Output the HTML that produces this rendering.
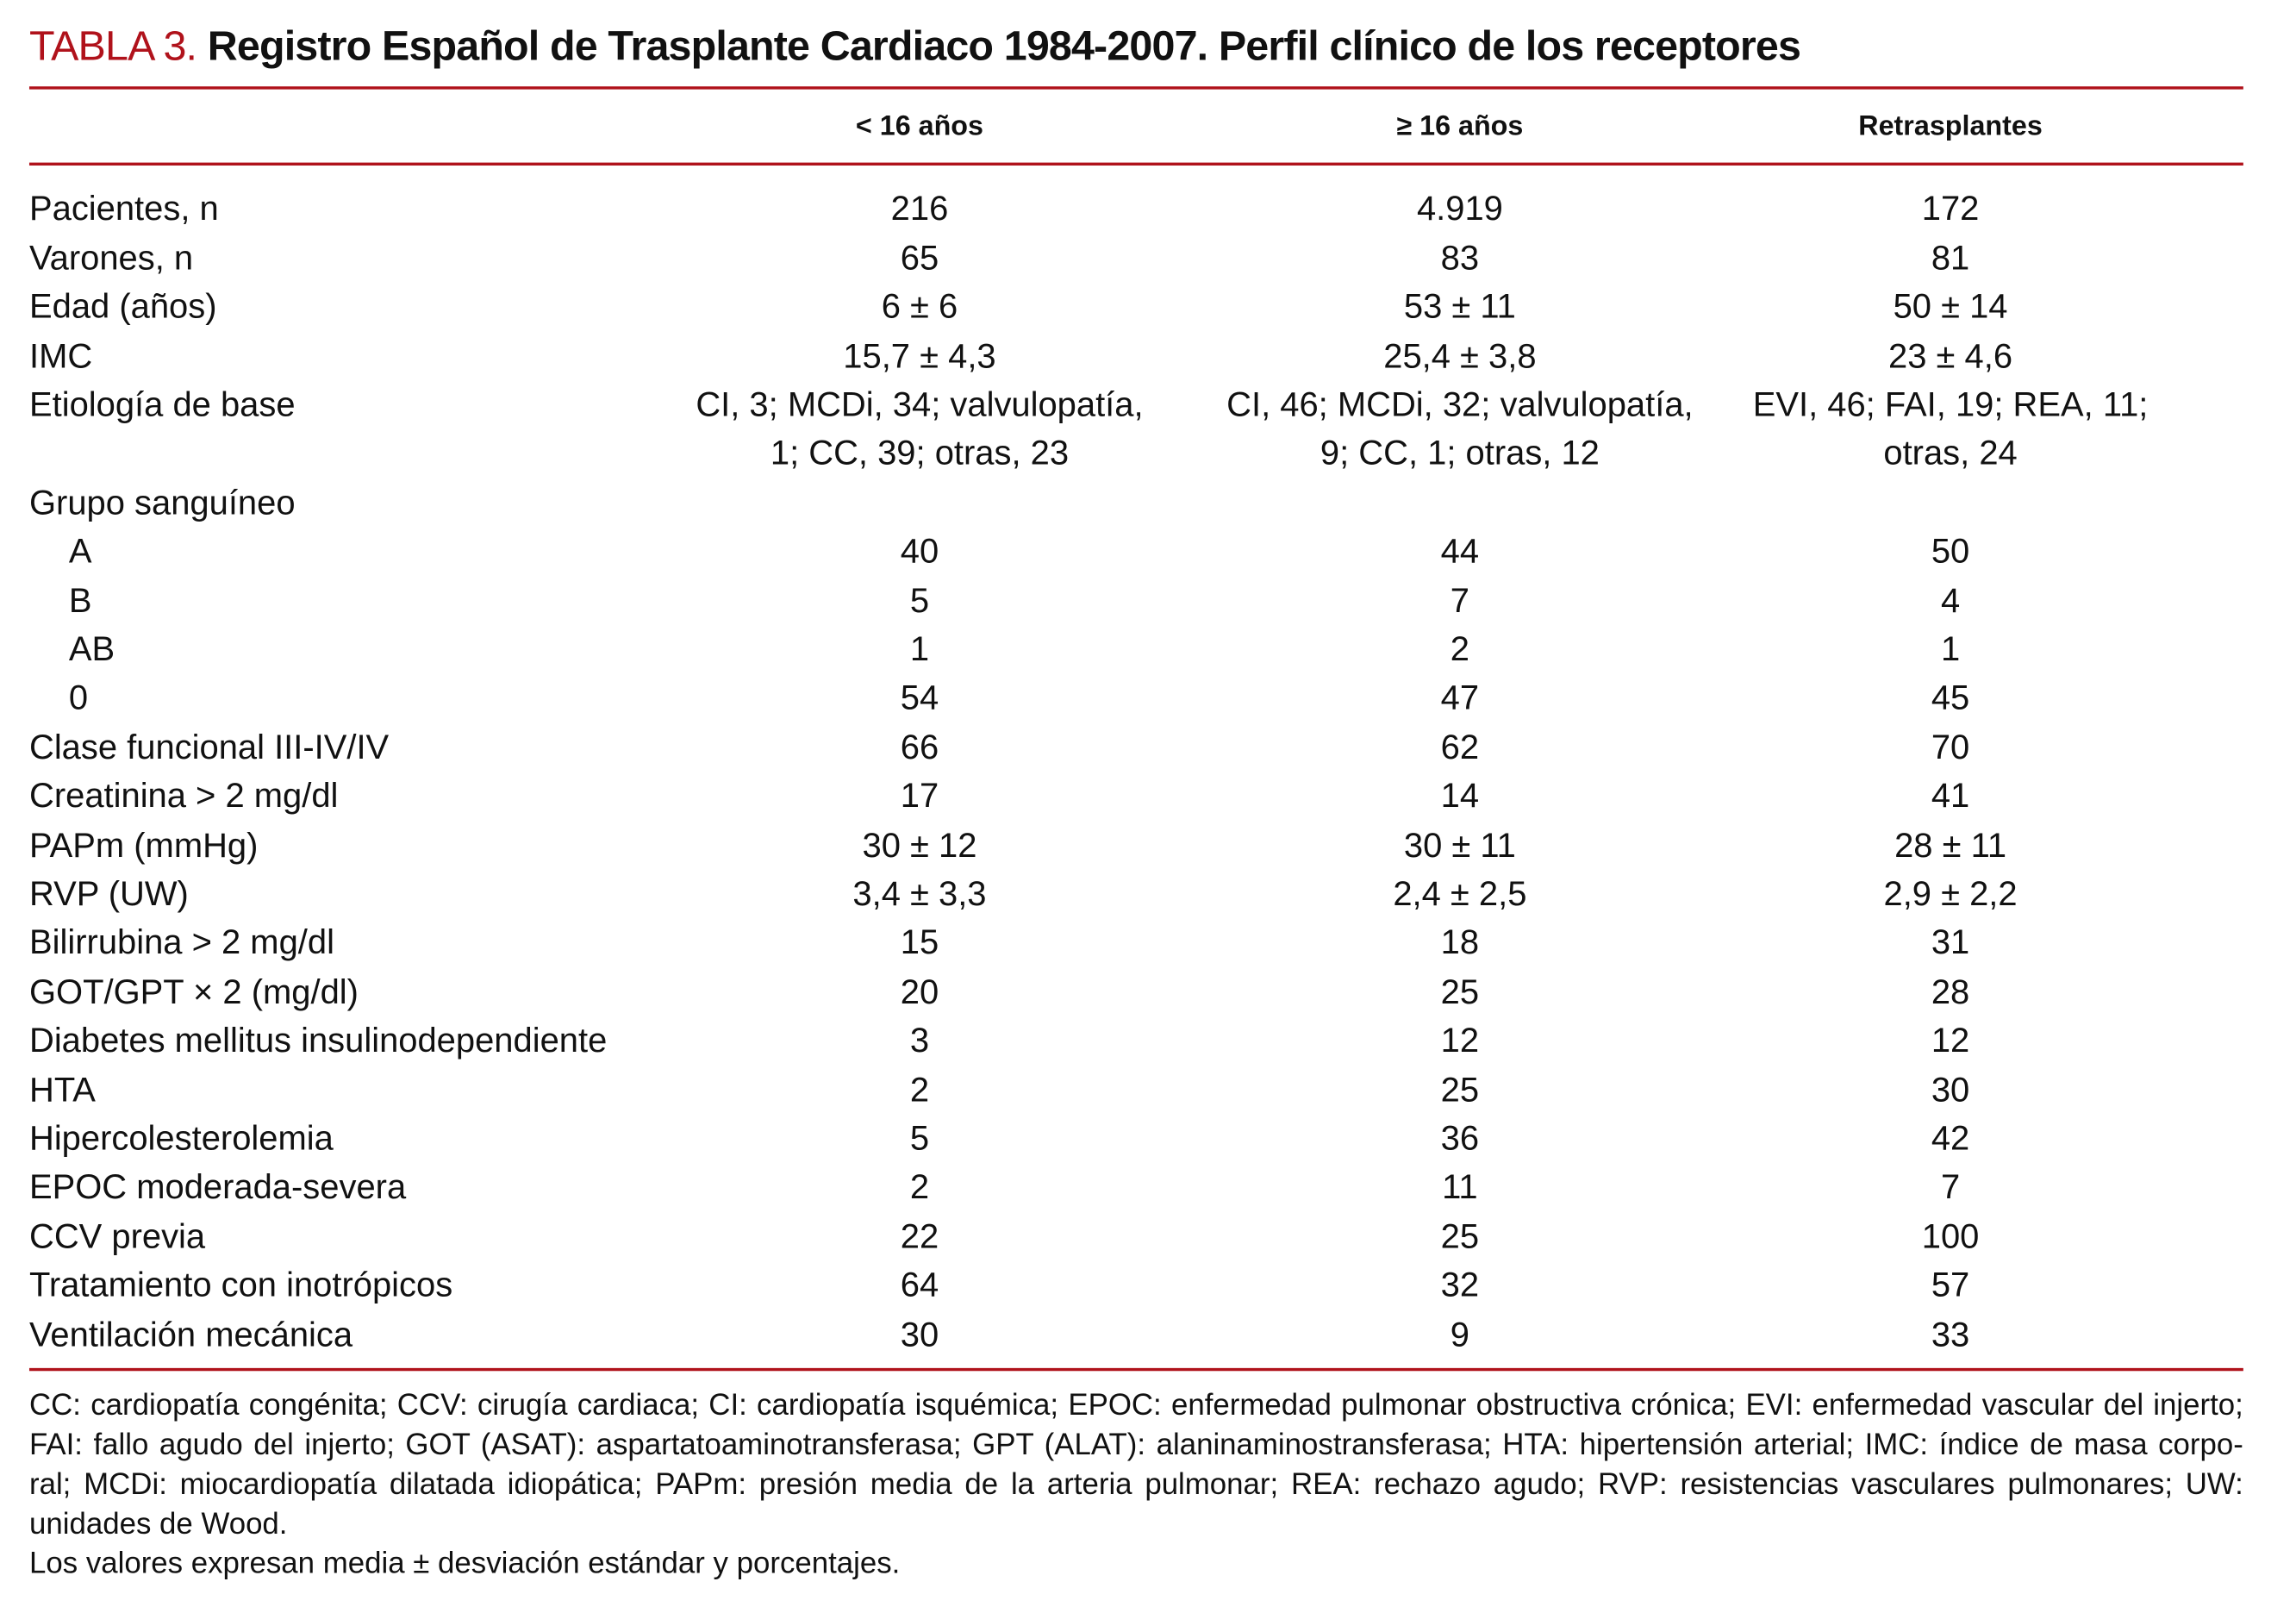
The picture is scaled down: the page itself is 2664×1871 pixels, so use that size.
<!DOCTYPE html>
<html><head><meta charset="utf-8"><style>
html,body{margin:0;padding:0;background:#fff;}
body{width:2664px;height:1871px;overflow:hidden;position:relative;}
#wrap{position:absolute;left:0;top:0;width:1568px;height:1101px;transform:scale(1.699);transform-origin:0 0;font-family:"Liberation Sans",sans-serif;color:#111;}
.title{position:absolute;left:20px;top:16px;font-size:28.5px;white-space:nowrap;letter-spacing:-0.5px;}
.title .lab{color:#b0121b;font-weight:normal;}
.title b{font-weight:bold;}
.rule{position:absolute;left:20px;width:1512px;height:2px;background:#b0121b;}
.hdr{position:absolute;top:76px;font-size:19px;font-weight:bold;width:340px;text-align:center;}
.row{position:absolute;left:0;width:1551px;height:33.4px;font-size:23.5px;line-height:33.4px;}
.row span{position:absolute;white-space:nowrap;}
.row .l{left:20px;}
.row .c1,.row .c2,.row .c3{width:400px;text-align:center;}
.c1{left:428px;}.c2{left:797px;}.c3{left:1132px;}
.ind{padding-left:27px;}
#rows{position:absolute;left:0;top:2px;}
.foot{position:absolute;left:20px;width:1512px;top:946px;font-size:20.5px;line-height:27px;}
.foot div{text-align:justify;text-align-last:justify;height:27px;white-space:nowrap;}
.foot div.last{text-align-last:left;}
</style></head><body>
<div id="wrap">
<div class="title"><span class="lab">TABLA 3.</span> <b>Registro Español de Trasplante Cardiaco 1984-2007. Perfil clínico de los receptores</b></div>
<div class="rule" style="top:59px"></div>
<div class="hdr" style="left:458px">&lt; 16 años</div>
<div class="hdr" style="left:827px">≥ 16 años</div>
<div class="hdr" style="left:1162px">Retrasplantes</div>
<div class="rule" style="top:111px"></div>
<div id="rows">
<div class="row" style="top:124.3px"><span class="l">Pacientes, n</span><span class="c1">216</span><span class="c2">4.919</span><span class="c3">172</span></div>
<div class="row" style="top:157.7px"><span class="l">Varones, n</span><span class="c1">65</span><span class="c2">83</span><span class="c3">81</span></div>
<div class="row" style="top:191.1px"><span class="l">Edad (años)</span><span class="c1">6 ± 6</span><span class="c2">53 ± 11</span><span class="c3">50 ± 14</span></div>
<div class="row" style="top:224.5px"><span class="l">IMC</span><span class="c1">15,7 ± 4,3</span><span class="c2">25,4 ± 3,8</span><span class="c3">23 ± 4,6</span></div>
<div class="row" style="top:257.9px"><span class="l">Etiología de base</span><span class="c1">CI, 3; MCDi, 34; valvulopatía,</span><span class="c2">CI, 46; MCDi, 32; valvulopatía,</span><span class="c3">EVI, 46; FAI, 19; REA, 11;</span></div>
<div class="row" style="top:291.3px"><span class="c1">1; CC, 39; otras, 23</span><span class="c2">9; CC, 1; otras, 12</span><span class="c3">otras, 24</span></div>
<div class="row" style="top:324.7px"><span class="l">Grupo sanguíneo</span></div>
<div class="row" style="top:358.1px"><span class="l ind">A</span><span class="c1">40</span><span class="c2">44</span><span class="c3">50</span></div>
<div class="row" style="top:391.5px"><span class="l ind">B</span><span class="c1">5</span><span class="c2">7</span><span class="c3">4</span></div>
<div class="row" style="top:424.9px"><span class="l ind">AB</span><span class="c1">1</span><span class="c2">2</span><span class="c3">1</span></div>
<div class="row" style="top:458.3px"><span class="l ind">0</span><span class="c1">54</span><span class="c2">47</span><span class="c3">45</span></div>
<div class="row" style="top:491.7px"><span class="l">Clase funcional III-IV/IV</span><span class="c1">66</span><span class="c2">62</span><span class="c3">70</span></div>
<div class="row" style="top:525.1px"><span class="l">Creatinina &gt; 2 mg/dl</span><span class="c1">17</span><span class="c2">14</span><span class="c3">41</span></div>
<div class="row" style="top:558.5px"><span class="l">PAPm (mmHg)</span><span class="c1">30 ± 12</span><span class="c2">30 ± 11</span><span class="c3">28 ± 11</span></div>
<div class="row" style="top:591.9px"><span class="l">RVP (UW)</span><span class="c1">3,4 ± 3,3</span><span class="c2">2,4 ± 2,5</span><span class="c3">2,9 ± 2,2</span></div>
<div class="row" style="top:625.3px"><span class="l">Bilirrubina &gt; 2 mg/dl</span><span class="c1">15</span><span class="c2">18</span><span class="c3">31</span></div>
<div class="row" style="top:658.7px"><span class="l">GOT/GPT × 2 (mg/dl)</span><span class="c1">20</span><span class="c2">25</span><span class="c3">28</span></div>
<div class="row" style="top:692.1px"><span class="l">Diabetes mellitus insulinodependiente</span><span class="c1">3</span><span class="c2">12</span><span class="c3">12</span></div>
<div class="row" style="top:725.5px"><span class="l">HTA</span><span class="c1">2</span><span class="c2">25</span><span class="c3">30</span></div>
<div class="row" style="top:758.9px"><span class="l">Hipercolesterolemia</span><span class="c1">5</span><span class="c2">36</span><span class="c3">42</span></div>
<div class="row" style="top:792.3px"><span class="l">EPOC moderada-severa</span><span class="c1">2</span><span class="c2">11</span><span class="c3">7</span></div>
<div class="row" style="top:825.7px"><span class="l">CCV previa</span><span class="c1">22</span><span class="c2">25</span><span class="c3">100</span></div>
<div class="row" style="top:859.1px"><span class="l">Tratamiento con inotrópicos</span><span class="c1">64</span><span class="c2">32</span><span class="c3">57</span></div>
<div class="row" style="top:892.5px"><span class="l">Ventilación mecánica</span><span class="c1">30</span><span class="c2">9</span><span class="c3">33</span></div>
</div>
<div class="rule" style="top:934px"></div>
<div class="foot">
<div>CC: cardiopatía congénita; CCV: cirugía cardiaca; CI: cardiopatía isquémica; EPOC: enfermedad pulmonar obstructiva crónica; EVI: enfermedad vascular del injerto;</div>
<div>FAI: fallo agudo del injerto; GOT (ASAT): aspartatoaminotransferasa; GPT (ALAT): alaninaminostransferasa; HTA: hipertensión arterial; IMC: índice de masa corpo-</div>
<div>ral; MCDi: miocardiopatía dilatada idiopática; PAPm: presión media de la arteria pulmonar; REA: rechazo agudo; RVP: resistencias vasculares pulmonares; UW:</div>
<div class="last">unidades de Wood.</div>
<div class="last">Los valores expresan media ± desviación estándar y porcentajes.</div>
</div>
</div>
</body></html>
